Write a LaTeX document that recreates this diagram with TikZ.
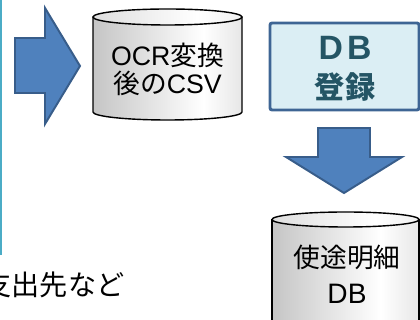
\documentclass[tikz,border=0pt]{standalone}
\usepackage{fontspec}
\setmainfont{Noto Sans CJK JP}
\newfontfamily\lat{Liberation Sans}
\definecolor{arrowblue}{RGB}{79,129,189}
\definecolor{arrowedge}{RGB}{56,93,138}
\definecolor{boxfill}{RGB}{219,238,244}
\definecolor{boxedge}{RGB}{62,101,148}
\definecolor{boxtext}{RGB}{36,85,101}
\definecolor{sideline}{RGB}{75,172,198}
\pgfdeclarehorizontalshading{cylshade}{100bp}{color(0bp)=(black!38); color(62bp)=(white); color(100bp)=(black!28)}
\pgfdeclarehorizontalshading{lidshade}{100bp}{color(0bp)=(black!22); color(60bp)=(white); color(100bp)=(black!15)}
\tikzset{
  blockarrow/.style={fill=arrowblue, draw=arrowedge, line width=1.4pt, line join=miter},
  cylbody/.style={shading=cylshade},
  cyllid/.style={shading=lidshade, draw=black, line width=1pt},
  cylline/.style={draw=black, line width=1pt},
  regbox/.style={fill=boxfill, draw=boxedge, line width=2.1pt, rounded corners=1.5pt},
}
\begin{document}
\begin{tikzpicture}[x=0.025cm, y=0.025cm]
    \useasboundingbox (0,0) rectangle (420,320);
    \clip (0,0) rectangle (420,320);
    \draw[sideline, line width=1.5pt] (1,320) -- (1,65);
    % arrow into the CSV
    \draw[blockarrow] (15,282) -- (45,282) -- (45,312) -- (80,254) -- (45,196) -- (45,227) -- (15,227) -- cycle;
    % OCR CSV cylinder
    \shade[cylbody] (93,303) -- (93,208) arc[start angle=180, end angle=360, x radius=74.5, y radius=8] -- (242,303) -- cycle;
    \draw[cylline] (93,303) -- (93,208) arc[start angle=180, end angle=360, x radius=74.5, y radius=8] -- (242,303);
    \draw[cyllid] (167.5,303) ellipse [x radius=74.5, y radius=8];
    \node[align=center, font=\fontsize{19}{20}\selectfont] (csv) at (167.5,251) {{\lat OCR}変換\\後の{\lat CSV}};
    % DB registration
    \draw[regbox] (270,210) rectangle (419,297);
    \node[align=center, text=boxtext, font=\bfseries\fontsize{21.5}{27.7}\selectfont] (reg) at (345,251) {{\lat\fontsize{24}{27.7}\selectfont D\hspace{3pt}B}\\登録};
    \draw[blockarrow] (318,192) -- (370,192) -- (370,163) -- (402,163) -- (344,127) -- (286,163) -- (318,163) -- cycle;
    % usage detail DB
    \shade[cylbody] (272,100.5) -- (272,-20) -- (419,-20) -- (419,100.5) -- cycle;
    \draw[cylline] (272,100.5) -- (272,-20) (419,-20) -- (419,100.5);
    \draw[cyllid] (345.5,100.5) ellipse [x radius=73.5, y radius=7.5];
    \node[align=center, font=\fontsize{19}{25.6}\selectfont] (detail) at (347,46) {使途明細\\{\lat\fontsize{20}{25.6}\selectfont DB}};
    \node[font=\fontsize{20}{24}\selectfont] (note) at (54,35) {支出先など};
\end{tikzpicture}
\end{document}
